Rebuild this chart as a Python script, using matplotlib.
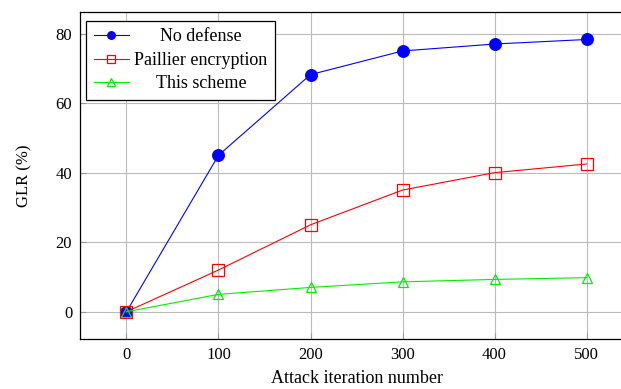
import matplotlib
matplotlib.use("Agg")
import matplotlib.pyplot as plt

plt.rcParams['font.family'] = ['Liberation Serif', 'DejaVu Serif']

iterations = [0, 100, 200, 300, 400, 500]
no_defense = [0, 45, 68.2, 75, 77, 78.3]
paillier = [0, 12, 25, 35, 40, 42.5]
this_scheme = [0, 5, 7, 8.6, 9.3, 9.8]

fig = plt.figure(figsize=(6.21, 3.89), dpi=100)
ax = fig.add_axes([0.1296, 0.1285, 0.889, 0.8406])

ax.plot(iterations, no_defense, color='blue', lw=0.8, marker='o', ms=8.3,
        mfc='blue', mec='blue', label='No defense', zorder=3)
ax.plot(iterations, paillier, color='red', lw=0.8, marker='s', ms=8.3,
        mfc='none', mec='red', mew=0.9, label='Paillier encryption', zorder=3)
ax.plot(iterations, this_scheme, color='#00ee00', lw=0.8, marker='^', ms=7.8,
        mfc='none', mec='#00ee00', mew=0.9, label='This scheme', zorder=3)

ax.set_xlim(-50, 550)
ax.set_ylim(-7.84, 86.2)
ax.set_xticks(iterations)
ax.set_yticks([0, 20, 40, 60, 80])
ax.grid(True, color='#bbbbbb', lw=0.8)
ax.set_axisbelow(True)
ax.tick_params(direction='in', length=4, color='#999999', labelsize=12, pad=6)
for s in ax.spines.values():
    s.set_linewidth(0.9)
    s.set_color('black')

ax.set_xlabel('Attack iteration number', fontsize=13, labelpad=5)
ax.set_ylabel('GLR (%)', fontsize=12, labelpad=17)

leg = ax.legend(loc='upper left', bbox_to_anchor=(0.01, 0.973), fontsize=13,
                frameon=True, fancybox=False, edgecolor='black', framealpha=1,
                borderaxespad=0, handlelength=1.95, handletextpad=0.3,
                borderpad=0.42, labelspacing=0.36, markerscale=0.65)
leg.get_frame().set_linewidth(0.9)

# center the legend labels within their column
fig.canvas.draw()
r = fig.canvas.get_renderer()
boxes = [t.get_window_extent(r) for t in leg.get_texts()]
x0 = min(b.x0 for b in boxes)
x1 = max(b.x1 for b in boxes)
for t, b in zip(leg.get_texts(), boxes):
    fig.text((x0 + x1) / 2 / fig.bbox.width, (b.y0 + b.y1) / 2 / fig.bbox.height,
             t.get_text(), ha='center', va='center', fontsize=13, zorder=10)
    t.set_alpha(0)

fig.savefig('out.png', dpi=100)
